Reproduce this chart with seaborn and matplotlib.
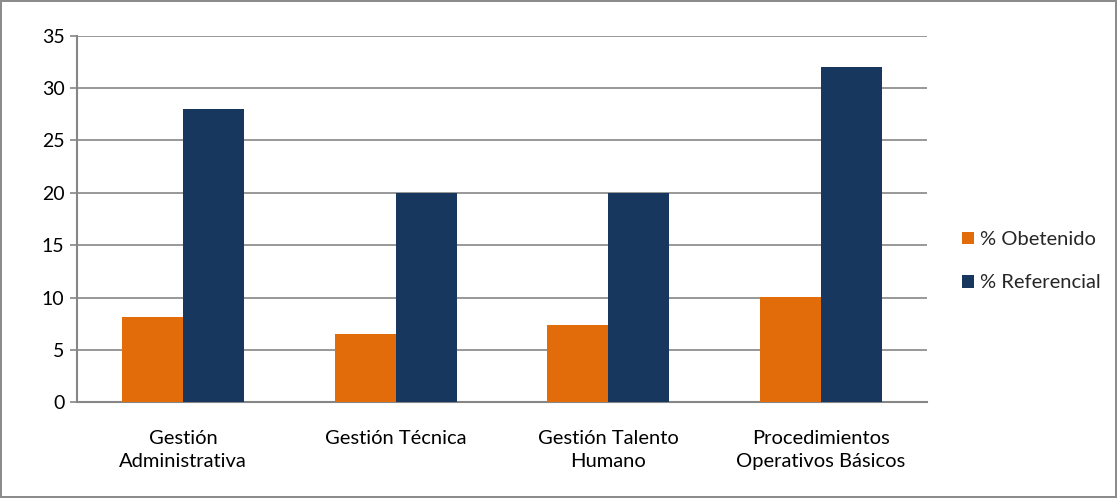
import matplotlib
matplotlib.use("Agg")
import matplotlib.pyplot as plt
import seaborn as sns
import pandas as pd

categories = ["Gestión\nAdministrativa", "Gestión Técnica", "Gestión Talento\nHumano",
              "Procedimientos\nOperativos Básicos"]
obtenido = [8.1, 6.5, 7.35, 10.1]
referencial = [28, 20, 20, 32]
series_names = ["% Obetenido", "% Referencial"]
colors = ["#E36C0A", "#17375E"]
yticks = [0, 5, 10, 15, 20, 25, 30, 35]

df = pd.DataFrame({
    "cat": categories * 2,
    "val": obtenido + referencial,
    "serie": [series_names[0]] * 4 + [series_names[1]] * 4,
})

sns.set_theme(style="white")
plt.rcParams["font.family"] = ["Lato", "DejaVu Sans"]

fig = plt.figure(figsize=(11.17, 4.98), dpi=100)
fig.patch.set_edgecolor("#8c8c8c")
fig.patch.set_linewidth(1.5)
ax = fig.add_axes([77/1117, 1 - 402.3/498, 850/1117, 366.6/498])

sns.barplot(data=df, x="cat", y="val", hue="serie", palette=colors, width=0.575,
            saturation=1, ax=ax, zorder=3, linewidth=0)

ax.set_ylim(0, 35)
ax.set_xlim(-0.5, 3.5)
ax.set_yticks(yticks)
ax.set_yticklabels([str(t) for t in yticks], fontsize=14, color="#000000")
ax.tick_params(axis="x", labelsize=14.5, colors="#000000", length=0, pad=20)
for lbl in ax.get_xticklabels():
    lbl.set_linespacing(1.45)
ax.tick_params(axis="y", length=5, width=1.2, color="#868686", left=True, pad=4)
ax.grid(axis="y", color="#868686", linewidth=1.2, zorder=0)
ax.set_axisbelow(True)
for s in ["top", "right"]:
    ax.spines[s].set_visible(False)
for s in ["left", "bottom"]:
    ax.spines[s].set_color("#868686")
    ax.spines[s].set_linewidth(1.5)
ax.set_xlabel("")
ax.set_ylabel("")

ax.legend(title=None, loc="center left", bbox_to_anchor=(1.02, 0.385), frameon=False,
          fontsize=14.5, handlelength=0.6, handleheight=0.6, handletextpad=0.3,
          labelspacing=1.3)

fig.savefig("out.png", dpi=100, edgecolor=fig.get_edgecolor())
